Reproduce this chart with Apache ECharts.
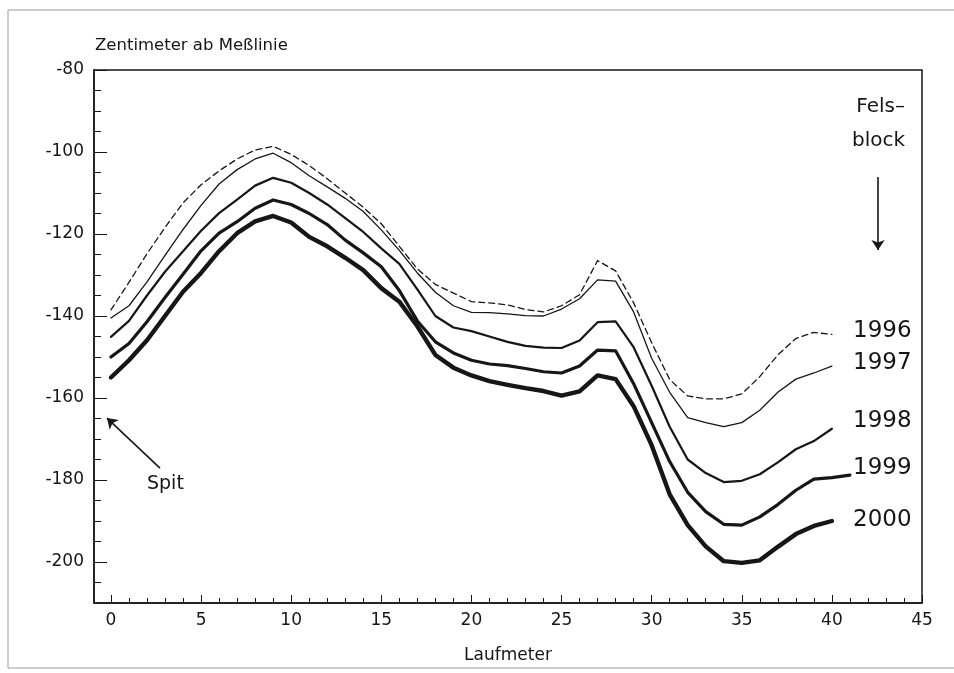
<!DOCTYPE html>
<html>
<head>
<meta charset="utf-8">
<script src="https://cdn.jsdelivr.net/npm/echarts@6/dist/echarts.min.js"></script>
<style>
  html, body { margin: 0; padding: 0; background: #ffffff; }
  #chart { width: 954px; height: 673px; }
</style>
</head>
<body>
<div id="chart"></div>
<script>
// ---- data (Laufmeter vs. Zentimeter ab Meßlinie) ----
const xs = [0,1,2,3,4,5,6,7,8,9,10,11,12,13,14,15,16,17,18,19,20,21,22,23,24,25,26,27,28,29,30,31,32,33,34,35,36,37,38,39,40];
const xs1999 = [0,1,2,3,4,5,6,7,8,9,10,11,12,13,14,15,16,17,18,19,20,21,22,23,24,25,26,27,28,29,30,31,32,33,34,35,36,37,38,39,40,41];

const y1996 = [-138.5,-131.8,-124.8,-118.4,-112.4,-108.0,-104.6,-101.7,-99.5,-98.6,-100.6,-103.3,-106.5,-110.0,-113.5,-117.5,-123.0,-128.5,-132.3,-134.4,-136.5,-136.8,-137.3,-138.4,-139.0,-137.5,-134.8,-126.5,-129.0,-136.8,-146.5,-155.5,-159.5,-160.2,-160.2,-159.0,-154.8,-149.5,-145.5,-144.0,-144.5];
const y1997 = [-140.5,-137.5,-131.7,-125.2,-118.9,-113.0,-107.8,-104.3,-101.7,-100.3,-102.6,-105.8,-108.5,-111.3,-114.5,-119.0,-124.0,-129.5,-134.2,-137.5,-139.1,-139.2,-139.5,-139.9,-140.0,-138.3,-135.8,-131.2,-131.5,-139.0,-150.3,-158.6,-164.8,-166.0,-167.0,-166.0,-163.0,-158.6,-155.4,-153.9,-152.2];
const y1998 = [-145.1,-141.2,-135.0,-129.2,-124.2,-119.2,-114.9,-111.6,-108.2,-106.3,-107.5,-110.0,-112.8,-116.1,-119.5,-123.5,-127.3,-133.5,-140.0,-142.8,-143.7,-145.0,-146.3,-147.3,-147.7,-147.8,-146.0,-141.5,-141.3,-147.6,-157.0,-167.0,-175.0,-178.3,-180.5,-180.2,-178.6,-175.7,-172.5,-170.5,-167.5];
const y1999 = [-150.0,-146.7,-141.4,-135.5,-129.8,-124.1,-119.8,-117.0,-113.7,-111.7,-112.8,-115.0,-117.7,-121.5,-124.6,-128.0,-133.8,-141.2,-146.3,-149.0,-150.8,-151.7,-152.1,-152.8,-153.6,-153.9,-152.2,-148.3,-148.5,-156.5,-166.0,-175.5,-183.0,-187.7,-190.8,-191.0,-189.0,-186.0,-182.5,-179.8,-179.4,-178.8];
const y2000 = [-155.0,-150.8,-145.9,-140.0,-134.1,-129.5,-124.2,-119.8,-116.9,-115.6,-117.2,-120.7,-123.0,-125.8,-128.8,-133.2,-136.5,-142.5,-149.5,-152.6,-154.5,-155.9,-156.8,-157.6,-158.3,-159.4,-158.4,-154.5,-155.4,-162.0,-171.5,-183.5,-191.0,-196.2,-199.8,-200.2,-199.6,-196.3,-193.2,-191.2,-190.0];

const years = ['1996','1997','1998','1999','2000'];

// tick labels
const xLabels = [0,5,10,15,20,25,30,35,40,45];
const xMinorTicks = [0,1,2,3,4,5,6,7,8,9,10,11,12,13,14,15,16,17,18,19,20,21,22,23,24,25,26,27,28,29,30,31,32,33,34,35,36,37,38,39,40,41,42,43,44,45];
const yLabels = [-200,-180,-160,-140,-120,-100,-80];
const yMinorTicks = [-205,-200,-195,-190,-185,-180,-175,-170,-165,-160,-155,-150,-145,-140,-135,-130,-125,-120,-115,-110,-105,-100,-95,-90,-85,-80];

// annotation arrows (data coordinates)
const spitArrow = [[2.72,-177.1],[-0.22,-164.9]];
const felsArrow = [[42.56,-106.1],[42.56,-123.9]];

const pair = (x, y) => x.map((v, i) => [v, y[i]]);
const INK = '#161616';
const FONT = 'DejaVu Sans';

const chart = echarts.init(document.getElementById('chart'), null, {renderer: 'canvas'});

const XMIN = -0.94, XMAX = 45, YMIN = -210, YMAX = -80;

function lineSeries(name, x, y, width, type) {
  return {
    name: name, type: 'line', data: pair(x, y), symbol: 'none', smooth: false,
    lineStyle: {color: INK, width: width, type: type || 'solid', cap: 'round', join: 'round'},
    silent: true, animation: false, z: 3
  };
}

const series = [
  lineSeries('1996', xs, y1996, 1.3, [6, 4]),
  lineSeries('1997', xs, y1997, 1.3),
  lineSeries('1998', xs, y1998, 2.2),
  lineSeries('1999', xs1999, y1999, 3.2),
  lineSeries('2000', xs, y2000, 4.4)
];
series[4].markLine = {
  silent: true, animation: false,
  symbol: ['none', 'arrow'], symbolSize: 10,
  lineStyle: {color: INK, width: 1.6, type: 'solid'},
  label: {show: false},
  emphasis: {disabled: true},
  data: [
    [{coord: spitArrow[0]}, {coord: spitArrow[1]}],
    [{coord: felsArrow[0]}, {coord: felsArrow[1]}]
  ]
};

const labelY = [333, 365, 423, 470, 522];

const option = {
  backgroundColor: '#ffffff',
  animation: false,
  title: {
    text: 'Zentimeter ab Meßlinie', left: 90, top: 32,
    textStyle: {fontFamily: FONT, fontSize: 16.5, fontWeight: 'normal', color: INK}
  },
  grid: {left: 94, right: 32, top: 70, bottom: 70, show: true, borderColor: INK, borderWidth: 1.5, backgroundColor: 'transparent'},
  xAxis: [
    {
      type: 'value', min: XMIN, max: XMAX,
      name: 'Laufmeter', nameLocation: 'middle', nameGap: 44,
      nameTextStyle: {fontFamily: FONT, fontSize: 17, color: INK},
      axisLine: {show: true, onZero: false, lineStyle: {color: INK, width: 1.5}},
      axisTick: {show: true, inside: true, length: 8, customValues: xLabels, lineStyle: {color: INK, width: 1}},
      axisLabel: {customValues: xLabels, fontFamily: FONT, fontSize: 17, color: INK, margin: 9},
      splitLine: {show: false}
    },
    {
      type: 'value', min: XMIN, max: XMAX, position: 'bottom',
      axisLine: {show: false, onZero: false},
      axisTick: {show: true, inside: true, length: 5, customValues: xMinorTicks, lineStyle: {color: INK, width: 1}},
      axisLabel: {show: false}, splitLine: {show: false}
    }
  ],
  yAxis: [
    {
      type: 'value', min: YMIN, max: YMAX,
      axisLine: {show: true, onZero: false, lineStyle: {color: INK, width: 1.5}},
      axisTick: {show: true, inside: true, length: 13, customValues: yLabels, lineStyle: {color: INK, width: 1}},
      axisLabel: {customValues: yLabels, fontFamily: FONT, fontSize: 17, color: INK, margin: 10},
      splitLine: {show: false}
    },
    {
      type: 'value', min: YMIN, max: YMAX, position: 'left',
      axisLine: {show: false, onZero: false},
      axisTick: {show: true, inside: true, length: 7, customValues: yMinorTicks, lineStyle: {color: INK, width: 1}},
      axisLabel: {show: false}, splitLine: {show: false}
    }
  ],
  series: series,
  graphic: [
    {type: 'rect', silent: true, shape: {x: 8, y: 10, width: 980, height: 658}, style: {fill: 'none', stroke: '#9a9a9a', lineWidth: 1}, z: -1},
    {type: 'text', right: 49, top: 97, silent: true, style: {text: 'Fels–', font: '20px "DejaVu Sans"', fill: INK}},
    {type: 'text', right: 49, top: 131, silent: true, style: {text: 'block', font: '20px "DejaVu Sans"', fill: INK}},
    {type: 'text', left: 147, top: 475, silent: true, style: {text: 'Spit', font: '19px "DejaVu Sans"', fill: INK}}
  ].concat(years.map((t, i) => ({
    type: 'text', silent: true, left: 853, top: labelY[i] - 13,
    style: {text: t, font: '23px "DejaVu Sans"', fill: INK}
  })))
};

chart.setOption(option);
</script>
</body>
</html>
